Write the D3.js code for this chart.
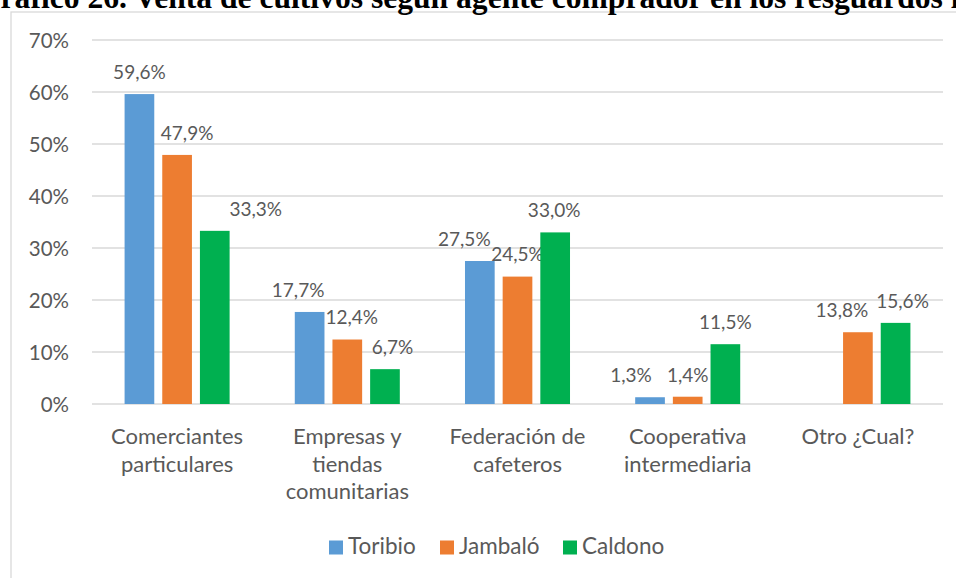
<!DOCTYPE html>
<html><head><meta charset="utf-8">
<script src="https://cdn.jsdelivr.net/npm/d3@7"></script>
<style>body{margin:0;background:#fff}svg{display:block}</style>
</head><body>
<svg id="c" width="956" height="578"></svg>
<script>
const title = "Gráfico 26. Venta de cultivos según agente comprador en los resguardos indígenas";
const categories = [["Comerciantes","particulares"],["Empresas y","tiendas","comunitarias"],["Federación de","cafeteros"],["Cooperativa","intermediaria"],["Otro ¿Cual?"]];
const series = ["Toribio","Jambaló","Caldono"];
const toribio = [59.6, 17.7, 27.5, 1.3, null];
const jambalo = [47.9, 12.4, 24.5, 1.4, 13.8];
const caldono = [33.3, 6.7, 33.0, 11.5, 15.6];
const yTicks = [0,10,20,30,40,50,60,70];
const colors = ["#5b9bd5","#ed7d31","#00b050"];
// label horizontal nudges (layout only)
const labelDx = [[0,-11.5,-15.5,-19,0],[10,4.5,0,0,-16],[41,7.5,-1,0,7]];

const values = [toribio, jambalo, caldono];
const svg = d3.select("#c");
const F = "Lato, 'Open Sans', sans-serif";
const txt = "#595959";

svg.append("rect").attr("x",11).attr("y",12).attr("width",1200).attr("height",1200)
  .attr("fill","none").attr("stroke","#d9d9d9").attr("stroke-width",1.3);

svg.append("text").attr("x",-24).attr("y",8).attr("font-family","'Liberation Serif', 'Times New Roman', serif")
  .attr("font-weight","bold").attr("font-size",31.6).attr("fill","#000").text(title);

const x0 = d3.scaleBand().domain(d3.range(categories.length)).range([92,943]).padding(0);
const x1 = d3.scaleBand().domain(d3.range(series.length)).range([0,x0.bandwidth()]).paddingInner(0.212).paddingOuter(0.865);
const y = d3.scaleLinear().domain([0,70]).range([404,40]);

const grid = svg.append("g");
yTicks.forEach(t=>{
  grid.append("line").attr("x1",92).attr("x2",943).attr("y1",y(t)).attr("y2",y(t))
    .attr("stroke","#d9d9d9").attr("stroke-width",1.3);
});
const yAxis = d3.axisLeft(y).tickValues(yTicks).tickFormat(d=>d+"%").tickSize(0).tickPadding(0);
const ya = svg.append("g").attr("transform","translate(69,0)").call(yAxis);
ya.select(".domain").remove();
ya.selectAll("text").attr("font-family",F).attr("font-size",20.5).attr("fill",txt).attr("dy","0.36em");

series.forEach((s,si)=>{
  const g = svg.append("g");
  values[si].forEach((v,ci)=>{
    if(v==null) return;
    const bx = x0(ci)+x1(si);
    g.append("rect").attr("x",bx).attr("y",y(v)).attr("width",x1.bandwidth()).attr("height",y(0)-y(v)).attr("fill",colors[si]);
    g.append("text").attr("x",bx+x1.bandwidth()/2+labelDx[si][ci]).attr("y",y(v)-22).attr("dy","0.36em")
      .attr("text-anchor","middle").attr("font-family",F).attr("font-size",19).attr("fill",txt)
      .text(v.toFixed(1).replace(".",",")+"%");
  });
});

categories.forEach((lines,ci)=>{
  const t = svg.append("text").attr("text-anchor","middle").attr("font-family",F).attr("font-size",22).attr("fill",txt);
  lines.forEach((l,i)=>{
    t.append("tspan").attr("x",x0(ci)+x0.bandwidth()/2).attr("y",444+i*27.7).text(l);
  });
});

const legX = [329,440,563];
series.forEach((s,i)=>{
  svg.append("rect").attr("x",legX[i]).attr("y",540.5).attr("width",14).attr("height",14).attr("fill",colors[i]);
  svg.append("text").attr("x",legX[i]+19).attr("y",554).attr("font-family",F).attr("font-size",22.5).attr("fill",txt).text(s);
});
</script>
</body></html>
